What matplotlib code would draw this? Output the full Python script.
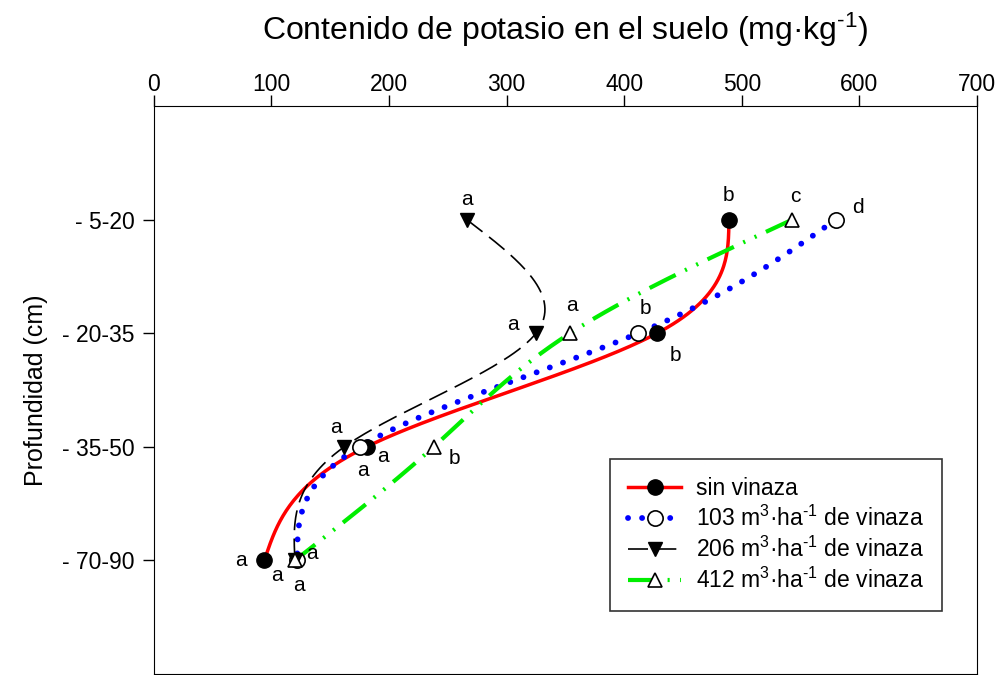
import numpy as np
import matplotlib.pyplot as plt

plt.rcParams['font.family'] = ['Liberation Sans', 'DejaVu Sans']
plt.rcParams['mathtext.fontset'] = 'custom'
plt.rcParams['mathtext.rm'] = 'Liberation Sans'
plt.rcParams['mathtext.default'] = 'regular'

# data
depths = ['- 5-20', '- 20-35', '- 35-50', '- 70-90']
sin_vinaza = [489, 428, 181, 94]
v103 = [580, 412, 175, 122]
v206 = [266, 325, 162, 120]
v412 = [543, 354, 238, 120]
letters_sin = ['b', 'b', 'a', 'a']
letters_103 = ['d', 'b', 'a', 'a']
letters_206 = ['a', 'a', 'a', 'a']
letters_412 = ['c', 'a', 'b', 'a']


def natural_spline(y, x, n=200):
    # natural cubic spline x(y) used to draw the smooth curve
    y = np.asarray(y, float)
    x = np.asarray(x, float)
    h = np.diff(y)
    k = len(y)
    A = np.zeros((k, k))
    b = np.zeros(k)
    A[0, 0] = A[-1, -1] = 1
    for i in range(1, k - 1):
        A[i, i - 1] = h[i - 1]
        A[i, i] = 2 * (h[i - 1] + h[i])
        A[i, i + 1] = h[i]
        b[i] = 6 * ((x[i + 1] - x[i]) / h[i] - (x[i] - x[i - 1]) / h[i - 1])
    M = np.linalg.solve(A, b)
    ys = np.linspace(y[0], y[-1], n)
    idx = np.clip(np.searchsorted(y, ys) - 1, 0, k - 2)
    y0, y1 = y[idx], y[idx + 1]
    hh = y1 - y0
    t0, t1 = y1 - ys, ys - y0
    xs = (M[idx] * t0**3 + M[idx + 1] * t1**3) / (6 * hh) \
        + (x[idx] / hh - M[idx] * hh / 6) * t0 \
        + (x[idx + 1] / hh - M[idx + 1] * hh / 6) * t1
    return xs, ys


pos = np.arange(1, len(depths) + 1)
unit = ' m$^3$·ha$^{\\text{-1}}$ de vinaza'

fig = plt.figure(figsize=(9.99, 6.75), dpi=100)
ax = fig.add_axes([0.154, 0.0015, 0.824, 0.8415])

series = [
    (sin_vinaza, letters_sin, dict(color='red', lw=2.5, ls='-'),
     dict(marker='o', ms=11, mfc='black', mec='black'), 'sin vinaza',
     [(0, 24), (18, -22), (16, -10), (-23, 0)]),
    (v103, letters_103, dict(color='blue', lw=4.2, ls=(0, (0.01, 2.4)), dash_capstyle='round'),
     dict(marker='o', ms=11, mfc='white', mec='black', mew=1.2),
     '103' + unit,
     [(22, 12), (7, 25), (3, -24), (-20, -15)]),
    (v206, letters_206, dict(color='black', lw=1.2, ls=(0, (12, 5))),
     dict(marker='v', ms=10, mfc='black', mec='black'),
     '206' + unit,
     [(0, 20), (-23, 9), (-8, 19), (4, -25)]),
    (v412, letters_412, dict(color='#00ee00', lw=3, ls=(0, (7, 2.5, 0.5, 2.5, 0.5, 2.5))),
     dict(marker='^', ms=10, mfc='white', mec='black', mew=1.2),
     '412' + unit,
     [(3, 23), (2, 28), (21, -12), (17, 7)]),
]

handles = []
for vals, letters, lstyle, mstyle, label, offs in series:
    xs, ys = natural_spline(pos, vals)
    ax.plot(xs, ys, zorder=2, **lstyle)
    ax.plot(vals, pos, ls='none', zorder=3, **mstyle)
    h, = ax.plot([], [], label=label, **lstyle, **mstyle)
    handles.append(h)
    for xv, yv, lt, off in zip(vals, pos, letters, offs):
        ax.annotate(lt, (xv, yv), xytext=off, textcoords='offset pixels',
                    ha='center', va='center', fontsize=15)

ax.set_xlim(0, 700)
ax.set_ylim(5.0, 0)
ax.set_xticks(np.arange(0, 701, 100))
ax.set_yticks(pos)
ax.set_yticklabels(depths)
ax.xaxis.tick_top()
ax.xaxis.set_label_position('top')
ax.tick_params(axis='both', direction='out', length=8, width=1, labelsize=16.5, colors='black')
ax.tick_params(axis='x', pad=-1)
ax.tick_params(axis='y', pad=6)
ax.set_xlabel('Contenido de potasio en el suelo (mg·kg$^{\\text{-1}}$)', fontsize=23, labelpad=24)
ax.set_ylabel('Profundidad (cm)', fontsize=18, labelpad=10)

leg = ax.legend(handles=handles, loc='upper left', bbox_to_anchor=(0.554, 0.379),
                borderaxespad=0, fontsize=16.5, frameon=True, fancybox=False,
                edgecolor='black', handlelength=2.3, labelspacing=0.25,
                borderpad=0.8, handletextpad=0.65)
leg.get_frame().set_linewidth(1.2)

fig.savefig('out.png', dpi=100)
